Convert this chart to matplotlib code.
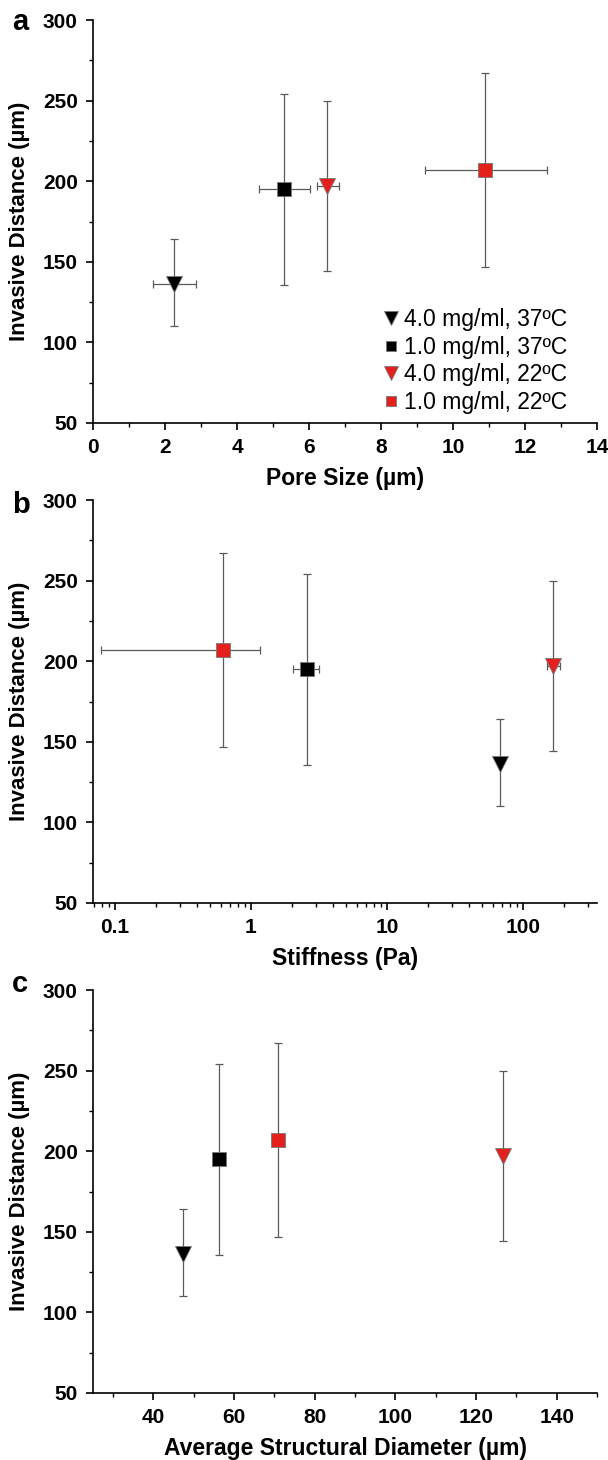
import numpy as np
import matplotlib.pyplot as plt
from matplotlib.ticker import MultipleLocator

plt.rcParams['font.family'] = ['Liberation Sans', 'DejaVu Sans']

# groups (legend order)
labels = ['4.0 mg/ml, 37ºC', '1.0 mg/ml, 37ºC', '4.0 mg/ml, 22ºC', '1.0 mg/ml, 22ºC']
colors = ['black', 'black', '#e3201c', '#e3201c']
markers = ['v', 's', 'v', 's']

# invasive distance (um) with asymmetric y errors
dist = [136.5, 195, 197, 207]
dist_lo = [110, 135.5, 144, 147]
dist_hi = [164, 254, 250, 267]

# pore size (um)
pore = [2.25, 5.3, 6.5, 10.9]
pore_lo = [1.68, 4.6, 6.22, 9.22]
pore_hi = [2.87, 6.03, 6.84, 12.62]

# stiffness (Pa)
stiff = [68, 2.6, 167, 0.62]
stiff_lo = [68, 2.03, 150, 0.079]
stiff_hi = [68, 3.15, 187, 1.17]

# average structural diameter (um)
diam = [47.2, 56.2, 126.7, 70.9]

W, H = 608, 1460
fig = plt.figure(figsize=(W / 100, H / 100), dpi=100)

# axes boxes in pixels: (left, top, right, bottom)
boxes = [(93, 20, 597, 423), (93, 500, 597, 903), (93, 990, 597, 1393)]
axes = [fig.add_axes([l / W, 1 - b / H, (r - l) / W, (b - t) / H]) for l, t, r, b in boxes]
axa, axb, axc = axes

def draw(ax, xs, xlo=None, xhi=None):
    for i in range(4):
        yerr = [[dist[i] - dist_lo[i]], [dist_hi[i] - dist[i]]]
        xerr = None
        if xlo is not None and xhi[i] != xlo[i]:
            xerr = [[xs[i] - xlo[i]], [xhi[i] - xs[i]]]
        ax.errorbar(xs[i], dist[i], yerr=yerr, xerr=xerr, fmt='none',
                    ecolor='#5a5a5a', elinewidth=0.9, capsize=3, capthick=0.9, zorder=2)
        ms = 12 if markers[i] == 'v' else 9.5
        ax.plot(xs[i], dist[i], linestyle='none', marker=markers[i], color=colors[i],
                markersize=ms, markeredgecolor='#777777', markeredgewidth=0.6,
                label=labels[i], zorder=3)
    ax.set_ylim(50, 300)
    ax.yaxis.set_major_locator(MultipleLocator(50))
    ax.yaxis.set_minor_locator(MultipleLocator(25))
    for s in ['top', 'right']:
        ax.spines[s].set_visible(False)
    for s in ['left', 'bottom']:
        ax.spines[s].set_linewidth(1.2)
    ax.tick_params(which='major', length=5, width=1.2, labelsize=15, direction='out', pad=6)
    ax.tick_params(which='minor', length=3, width=1.0, direction='out')
    ax.set_ylabel('Invasive Distance (µm)', fontsize=16, fontweight='bold', va='center')
    ax.yaxis.set_label_coords(-0.146, 0.5)

def finish(ax, xlabel, box):
    for t in ax.get_xticklabels() + ax.get_yticklabels():
        t.set_fontweight('bold')
    ax.set_xlabel(xlabel, fontsize=16.5, fontweight='bold', va='center')
    ax.xaxis.set_label_coords(0.5, -55 / (box[3] - box[1]))

draw(axa, pore, pore_lo, pore_hi)
axa.set_xlim(0, 14)
axa.xaxis.set_major_locator(MultipleLocator(2))
axa.xaxis.set_minor_locator(MultipleLocator(1))
finish(axa, 'Pore Size (µm)', boxes[0])
axa.legend(loc='lower right', frameon=False, fontsize=16.5, handletextpad=0.15,
           labelspacing=0.2, handlelength=0.9, markerscale=0.8,
           bbox_to_anchor=(0.96, 0.0), borderaxespad=0.0)

draw(axb, stiff, stiff_lo, stiff_hi)
axb.set_xscale('log')
axb.set_xlim(0.069, 350)
axb.set_xticks([0.1, 1, 10, 100])
axb.set_xticklabels(['0.1', '1', '10', '100'])
finish(axb, 'Stiffness (Pa)', boxes[1])

draw(axc, diam)
axc.set_xlim(25, 150)
axc.set_xticks([40, 60, 80, 100, 120, 140])
axc.xaxis.set_minor_locator(MultipleLocator(10))
finish(axc, 'Average Structural Diameter (µm)', boxes[2])

# panel letters (pixel centres)
for (x, y), letter in zip([(12, 22), (12, 505), (12, 984)], ['a', 'b', 'c']):
    fig.text(x / W, 1 - y / H, letter, fontsize=21, fontweight='bold',
             ha='left', va='center')

fig.savefig('out.png', dpi=100)
